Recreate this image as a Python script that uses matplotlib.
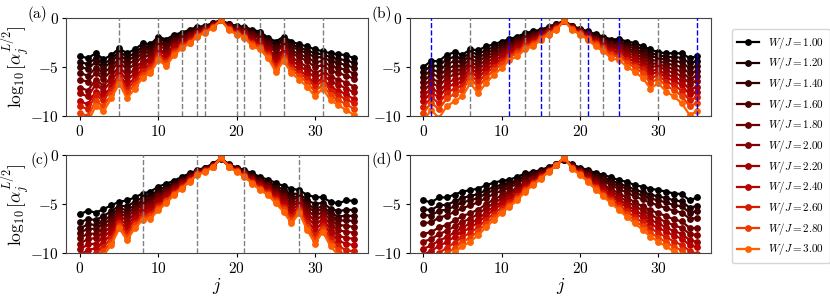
import numpy as np
import matplotlib
matplotlib.use("Agg")
import matplotlib.pyplot as plt

plt.rcParams['mathtext.fontset'] = 'cm'
plt.rcParams['font.family'] = 'serif'
plt.rcParams['font.serif'] = ['cmr10', 'DejaVu Serif']
plt.rcParams['axes.formatter.use_mathtext'] = True
plt.rcParams['axes.unicode_minus'] = True

j = list(range(36))
W_over_J = [1.00, 1.20, 1.40, 1.60, 1.80, 2.00, 2.20, 2.40, 2.60, 2.80, 3.00]
xticks = [0, 10, 20, 30]
yticks = [0, -5, -10]
panel_labels = ['(a)', '(b)', '(c)', '(d)']

# log10[alpha_j^{L/2}] for each W/J (rows) and site j (columns)
logalpha_a = [
    [-3.9,-4.1,-3.6,-4.2,-3.8,-3.1,-3.6,-3.2,-2.6,-2.7,-1.9,-2.2,-1.7,-1.5,-1.2,-0.9,-0.8,-0.5,-0.25,-0.6,-0.8,-0.9,-1.2,-1.4,-2.0,-2.4,-1.9,-2.4,-2.7,-2.9,-3.2,-3.4,-3.6,-3.7,-3.8,-4.1],
    [-4.5,-4.7,-4.1,-4.7,-4.2,-3.4,-4.0,-3.6,-2.9,-3.0,-2.1,-2.4,-1.9,-1.6,-1.3,-1.0,-0.9,-0.55,-0.2,-0.65,-0.9,-1.0,-1.35,-1.55,-2.2,-2.7,-2.1,-2.7,-3.0,-3.3,-3.6,-3.7,-4.0,-4.2,-4.3,-4.6],
    [-5.0,-5.2,-4.5,-5.1,-4.5,-3.7,-4.4,-3.9,-3.2,-3.2,-2.3,-2.7,-2.1,-1.8,-1.4,-1.1,-0.9,-0.6,-0.2,-0.7,-0.95,-1.1,-1.5,-1.7,-2.35,-2.9,-2.3,-2.9,-3.3,-3.6,-4.0,-4.0,-4.4,-4.6,-4.8,-5.1],
    [-5.6,-5.9,-5.1,-5.6,-5.0,-4.1,-4.8,-4.3,-3.5,-3.5,-2.5,-2.9,-2.3,-1.9,-1.6,-1.2,-1.0,-0.65,-0.2,-0.75,-1.05,-1.2,-1.65,-1.9,-2.55,-3.2,-2.6,-3.3,-3.7,-4.0,-4.5,-4.4,-4.9,-5.1,-5.3,-5.7],
    [-6.3,-6.5,-5.6,-6.2,-5.4,-4.4,-5.3,-4.7,-3.9,-3.8,-2.8,-3.2,-2.5,-2.1,-1.7,-1.3,-1.05,-0.7,-0.2,-0.8,-1.1,-1.3,-1.8,-2.05,-2.8,-3.5,-2.8,-3.6,-4.0,-4.4,-5.0,-4.8,-5.4,-5.6,-5.9,-6.2],
    [-7.1,-7.4,-6.3,-6.9,-6.0,-4.9,-5.9,-5.2,-4.4,-4.2,-3.1,-3.6,-2.8,-2.3,-1.9,-1.4,-1.15,-0.75,-0.2,-0.9,-1.25,-1.45,-2.05,-2.3,-3.05,-4.0,-3.2,-4.0,-4.5,-5.0,-5.6,-5.3,-6.0,-6.3,-6.6,-7.0],
    [-7.7,-8.0,-6.8,-7.4,-6.4,-5.3,-6.4,-5.6,-4.7,-4.4,-3.3,-3.8,-2.9,-2.5,-2.0,-1.5,-1.2,-0.8,-0.2,-0.95,-1.35,-1.55,-2.2,-2.5,-3.25,-4.3,-3.4,-4.3,-4.9,-5.4,-6.1,-5.7,-6.5,-6.8,-7.2,-7.6],
    [-8.5,-8.8,-7.5,-8.0,-7.0,-5.7,-6.9,-6.1,-5.1,-4.8,-3.6,-4.1,-3.2,-2.7,-2.2,-1.6,-1.3,-0.85,-0.2,-1.0,-1.45,-1.7,-2.4,-2.7,-3.5,-4.6,-3.7,-4.7,-5.3,-5.9,-6.7,-6.1,-7.1,-7.4,-7.8,-8.3],
    [-9.0,-9.3,-7.9,-8.4,-7.3,-6.0,-7.3,-6.4,-5.4,-5.0,-3.8,-4.4,-3.4,-2.8,-2.3,-1.7,-1.35,-0.9,-0.2,-1.1,-1.5,-1.8,-2.55,-2.85,-3.7,-4.9,-3.9,-5.0,-5.6,-6.2,-7.0,-6.4,-7.4,-7.9,-8.3,-8.7],
    [-9.7,-10.0,-8.5,-9.0,-7.8,-6.3,-7.7,-6.8,-5.8,-5.3,-4.1,-4.6,-3.6,-2.9,-2.5,-1.8,-1.4,-0.95,-0.2,-1.15,-1.6,-1.9,-2.7,-3.0,-3.9,-5.2,-4.2,-5.3,-5.9,-6.6,-7.5,-6.8,-7.9,-8.4,-8.8,-9.3],
    [-10.3,-10.6,-9.0,-9.5,-8.2,-6.7,-8.2,-7.2,-6.1,-5.6,-4.3,-4.9,-3.8,-3.1,-2.6,-1.9,-1.5,-1.0,-0.2,-1.2,-1.7,-2.0,-2.9,-3.2,-4.1,-5.5,-4.4,-5.6,-6.3,-7.0,-8.0,-7.2,-8.4,-8.9,-9.4,-9.9],
]

logalpha_b = [
    [-5.0,-4.4,-4.4,-3.75,-3.5,-3.75,-3.2,-3.3,-2.9,-2.7,-2.4,-2.15,-1.9,-1.55,-1.35,-1.2,-0.9,-0.6,-0.35,-0.8,-1.1,-1.35,-1.65,-1.9,-2.2,-2.15,-2.4,-2.55,-2.9,-3.2,-3.5,-3.6,-3.6,-3.6,-4.1,-3.9],
    [-5.5,-4.85,-4.9,-4.2,-3.95,-4.15,-3.5,-3.7,-3.25,-3.0,-2.65,-2.35,-2.1,-1.7,-1.5,-1.3,-0.95,-0.65,-0.3,-0.85,-1.15,-1.45,-1.75,-2.05,-2.35,-2.35,-2.65,-2.8,-3.2,-3.55,-3.8,-3.95,-4.0,-4.05,-4.6,-4.4],
    [-6.0,-5.3,-5.45,-4.7,-4.4,-4.5,-3.8,-4.1,-3.6,-3.25,-2.9,-2.55,-2.25,-1.85,-1.65,-1.4,-1.05,-0.7,-0.3,-0.85,-1.2,-1.5,-1.9,-2.15,-2.55,-2.55,-2.85,-3.1,-3.5,-3.9,-4.05,-4.3,-4.4,-4.5,-5.15,-4.9],
    [-6.5,-5.75,-5.95,-5.2,-4.85,-4.9,-4.15,-4.5,-3.9,-3.55,-3.15,-2.7,-2.45,-2.0,-1.75,-1.45,-1.1,-0.75,-0.3,-0.9,-1.25,-1.6,-2.0,-2.3,-2.7,-2.7,-3.1,-3.35,-3.75,-4.3,-4.35,-4.65,-4.8,-5.0,-5.65,-5.4],
    [-7.0,-6.2,-6.5,-5.65,-5.3,-5.3,-4.45,-4.9,-4.25,-3.8,-3.35,-2.9,-2.6,-2.15,-1.9,-1.55,-1.2,-0.8,-0.3,-0.95,-1.3,-1.65,-2.1,-2.45,-2.9,-2.9,-3.3,-3.6,-4.05,-4.65,-4.65,-5.0,-5.2,-5.45,-6.2,-5.9],
    [-7.5,-6.65,-7.0,-6.1,-5.75,-5.65,-4.75,-5.3,-4.6,-4.1,-3.6,-3.1,-2.8,-2.3,-2.05,-1.65,-1.25,-0.85,-0.3,-1.0,-1.35,-1.75,-2.2,-2.6,-3.05,-3.1,-3.55,-3.85,-4.35,-5.0,-4.9,-5.35,-5.6,-5.9,-6.7,-6.4],
    [-8.0,-7.15,-7.6,-6.65,-6.25,-6.1,-5.1,-5.7,-4.95,-4.4,-3.9,-3.35,-3.0,-2.45,-2.2,-1.75,-1.35,-0.95,-0.3,-1.0,-1.45,-1.8,-2.35,-2.75,-3.25,-3.35,-3.8,-4.15,-4.65,-5.4,-5.25,-5.75,-6.0,-6.4,-7.3,-7.0],
    [-8.5,-7.6,-8.1,-7.1,-6.7,-6.5,-5.4,-6.1,-5.3,-4.7,-4.15,-3.5,-3.2,-2.6,-2.35,-1.85,-1.4,-1.0,-0.3,-1.05,-1.5,-1.9,-2.45,-2.85,-3.4,-3.5,-4.05,-4.45,-4.95,-5.75,-5.5,-6.1,-6.4,-6.85,-7.8,-7.5],
    [-9.1,-8.1,-8.7,-7.65,-7.2,-6.9,-5.75,-6.55,-5.7,-5.0,-4.4,-3.75,-3.4,-2.75,-2.5,-1.95,-1.5,-1.05,-0.3,-1.1,-1.55,-2.0,-2.55,-3.0,-3.6,-3.75,-4.3,-4.75,-5.25,-6.15,-5.85,-6.5,-6.85,-7.4,-8.4,-8.05],
    [-9.7,-8.65,-9.3,-8.2,-7.75,-7.35,-6.1,-7.05,-6.1,-5.35,-4.7,-3.95,-3.6,-2.95,-2.65,-2.05,-1.6,-1.1,-0.3,-1.15,-1.6,-2.05,-2.7,-3.2,-3.8,-3.95,-4.55,-5.05,-5.6,-6.6,-6.2,-6.9,-7.35,-7.95,-9.0,-8.65],
    [-10.5,-9.4,-10.2,-9.0,-8.5,-8.0,-6.65,-7.7,-6.65,-5.8,-5.1,-4.3,-3.9,-3.2,-2.9,-2.2,-1.7,-1.2,-0.25,-1.2,-1.7,-2.2,-2.9,-3.4,-4.1,-4.3,-4.95,-5.5,-6.1,-7.2,-6.65,-7.5,-8.0,-8.7,-9.9,-9.5],
]

logalpha_c = [
    [-6.0,-5.65,-5.85,-5.5,-5.1,-4.75,-4.6,-4.3,-3.9,-3.7,-3.2,-2.9,-2.6,-2.2,-1.85,-1.5,-1.25,-0.85,-0.35,-0.9,-1.25,-1.5,-1.85,-2.2,-2.5,-2.8,-3.15,-3.4,-3.55,-4.05,-4.25,-4.3,-4.75,-4.9,-4.6,-4.65],
    [-6.85,-6.5,-6.6,-6.2,-5.7,-5.15,-5.2,-4.75,-4.3,-4.1,-3.55,-3.2,-2.8,-2.4,-2.0,-1.6,-1.3,-0.9,-0.3,-0.95,-1.3,-1.6,-2.0,-2.4,-2.75,-3.1,-3.55,-3.95,-3.9,-4.6,-4.95,-4.85,-5.45,-5.7,-5.55,-5.6],
    [-7.45,-7.05,-7.1,-6.7,-6.1,-5.4,-5.6,-5.1,-4.6,-4.4,-3.8,-3.4,-2.95,-2.5,-2.05,-1.6,-1.35,-0.95,-0.3,-0.95,-1.35,-1.7,-2.1,-2.55,-2.9,-3.35,-3.8,-4.3,-4.15,-4.95,-5.45,-5.2,-5.9,-6.25,-6.15,-6.2],
    [-7.9,-7.5,-7.5,-7.05,-6.45,-5.65,-5.95,-5.35,-4.8,-4.6,-4.0,-3.55,-3.1,-2.6,-2.15,-1.65,-1.4,-0.95,-0.3,-1.0,-1.4,-1.75,-2.2,-2.65,-3.0,-3.5,-4.0,-4.55,-4.3,-5.2,-5.8,-5.45,-6.25,-6.65,-6.65,-6.7],
    [-8.45,-8.0,-8.0,-7.5,-6.8,-5.9,-6.3,-5.6,-5.05,-4.85,-4.2,-3.75,-3.2,-2.7,-2.2,-1.7,-1.45,-1.0,-0.3,-1.05,-1.45,-1.8,-2.3,-2.75,-3.15,-3.7,-4.25,-4.9,-4.55,-5.55,-6.25,-5.75,-6.65,-7.1,-7.2,-7.3],
    [-9.0,-8.55,-8.45,-7.95,-7.2,-6.15,-6.7,-5.95,-5.3,-5.15,-4.45,-3.95,-3.35,-2.8,-2.3,-1.75,-1.5,-1.05,-0.3,-1.05,-1.5,-1.85,-2.4,-2.9,-3.3,-3.9,-4.5,-5.25,-4.75,-5.9,-6.7,-6.1,-7.1,-7.65,-7.8,-7.9],
    [-9.6,-9.1,-9.0,-8.4,-7.6,-6.45,-7.1,-6.25,-5.55,-5.4,-4.7,-4.15,-3.5,-2.95,-2.35,-1.8,-1.5,-1.05,-0.3,-1.1,-1.5,-1.95,-2.5,-3.05,-3.45,-4.1,-4.75,-5.6,-5.0,-6.25,-7.2,-6.45,-7.6,-8.2,-8.45,-8.5],
    [-10.2,-9.65,-9.5,-8.9,-8.0,-6.7,-7.5,-6.55,-5.85,-5.7,-4.95,-4.35,-3.65,-3.05,-2.45,-1.85,-1.55,-1.1,-0.3,-1.1,-1.55,-2.0,-2.6,-3.15,-3.6,-4.3,-5.0,-5.95,-5.25,-6.6,-7.7,-6.8,-8.05,-8.7,-9.05,-9.15],
    [-10.75,-10.2,-10.0,-9.35,-8.4,-6.95,-7.9,-6.9,-6.1,-5.95,-5.15,-4.55,-3.8,-3.2,-2.55,-1.9,-1.6,-1.15,-0.3,-1.15,-1.6,-2.05,-2.7,-3.3,-3.75,-4.5,-5.3,-6.3,-5.45,-6.95,-8.15,-7.2,-8.5,-9.25,-9.7,-9.8],
    [-11.3,-10.7,-10.45,-9.8,-8.8,-7.2,-8.3,-7.15,-6.35,-6.2,-5.4,-4.7,-3.9,-3.3,-2.6,-1.95,-1.65,-1.15,-0.3,-1.15,-1.65,-2.15,-2.8,-3.45,-3.9,-4.7,-5.5,-6.65,-5.7,-7.3,-8.6,-7.5,-8.9,-9.7,-10.25,-10.35],
    [-11.8,-11.2,-10.9,-10.2,-9.15,-7.45,-8.65,-7.45,-6.6,-6.45,-5.6,-4.9,-4.05,-3.4,-2.7,-2.0,-1.7,-1.2,-0.15,-1.2,-1.7,-2.2,-2.9,-3.55,-4.05,-4.9,-5.75,-6.95,-5.9,-7.6,-9.0,-7.8,-9.3,-10.2,-10.8,-10.9],
]

logalpha_d = [
    [-4.6,-4.8,-4.3,-4.3,-4.0,-3.7,-3.55,-3.4,-3.05,-2.8,-2.6,-2.5,-2.2,-1.85,-1.7,-1.5,-1.2,-0.85,-0.5,-0.9,-1.25,-1.5,-1.8,-2.0,-2.25,-2.55,-2.7,-3.05,-3.2,-3.4,-3.55,-3.7,-3.9,-3.95,-4.6,-4.3],
    [-5.5,-5.6,-5.1,-5.05,-4.7,-4.35,-4.15,-3.95,-3.55,-3.25,-3.0,-2.85,-2.5,-2.05,-1.85,-1.6,-1.25,-0.85,-0.45,-0.95,-1.35,-1.65,-2.0,-2.25,-2.55,-2.9,-3.15,-3.5,-3.75,-4.0,-4.2,-4.35,-4.6,-4.7,-5.35,-5.15],
    [-6.1,-6.15,-5.65,-5.55,-5.2,-4.8,-4.6,-4.35,-3.9,-3.55,-3.25,-3.05,-2.7,-2.2,-1.95,-1.7,-1.3,-0.9,-0.4,-1.0,-1.4,-1.75,-2.15,-2.45,-2.8,-3.15,-3.4,-3.85,-4.1,-4.4,-4.6,-4.8,-5.1,-5.2,-5.85,-5.7],
    [-6.9,-6.85,-6.35,-6.15,-5.75,-5.4,-5.1,-4.8,-4.35,-3.95,-3.6,-3.3,-2.9,-2.4,-2.1,-1.75,-1.35,-0.9,-0.4,-1.05,-1.5,-1.85,-2.3,-2.65,-3.05,-3.45,-3.8,-4.2,-4.5,-4.85,-5.1,-5.4,-5.65,-5.85,-6.45,-6.4],
    [-8.0,-7.85,-7.35,-7.1,-6.65,-6.2,-5.9,-5.55,-5.0,-4.5,-4.1,-3.75,-3.3,-2.7,-2.3,-1.9,-1.45,-0.9,-0.35,-1.1,-1.6,-2.05,-2.55,-3.0,-3.45,-3.9,-4.3,-4.8,-5.2,-5.6,-5.9,-6.2,-6.55,-6.75,-7.4,-7.45],
    [-8.8,-8.55,-8.05,-7.7,-7.25,-6.8,-6.45,-6.0,-5.4,-4.9,-4.4,-4.0,-3.5,-2.85,-2.45,-2.0,-1.5,-0.95,-0.35,-1.15,-1.65,-2.15,-2.75,-3.2,-3.7,-4.2,-4.7,-5.2,-5.6,-6.1,-6.45,-6.8,-7.15,-7.4,-8.0,-8.15],
    [-9.55,-9.2,-8.7,-8.35,-7.85,-7.35,-6.95,-6.5,-5.85,-5.25,-4.75,-4.3,-3.75,-3.05,-2.6,-2.1,-1.55,-0.95,-0.3,-1.2,-1.75,-2.3,-2.9,-3.45,-3.95,-4.5,-5.05,-5.6,-6.05,-6.6,-6.95,-7.35,-7.75,-8.0,-8.65,-8.85],
    [-10.15,-9.75,-9.25,-8.85,-8.3,-7.8,-7.4,-6.85,-6.2,-5.55,-5.0,-4.5,-3.95,-3.2,-2.7,-2.15,-1.55,-0.95,-0.3,-1.25,-1.8,-2.4,-3.05,-3.6,-4.2,-4.75,-5.35,-5.9,-6.4,-7.0,-7.4,-7.8,-8.2,-8.5,-9.15,-9.4],
    [-10.9,-10.45,-9.95,-9.45,-8.9,-8.35,-7.9,-7.35,-6.6,-5.95,-5.35,-4.8,-4.2,-3.4,-2.8,-2.25,-1.6,-1.0,-0.25,-1.25,-1.85,-2.5,-3.2,-3.8,-4.45,-5.1,-5.7,-6.3,-6.85,-7.45,-7.9,-8.35,-8.8,-9.15,-9.75,-10.1],
    [-11.6,-11.05,-10.55,-10.0,-9.45,-8.85,-8.4,-7.75,-7.0,-6.3,-5.65,-5.05,-4.4,-3.55,-2.95,-2.3,-1.65,-1.0,-0.25,-1.3,-1.95,-2.6,-3.35,-4.0,-4.7,-5.35,-6.0,-6.65,-7.25,-7.9,-8.4,-8.85,-9.35,-9.7,-10.3,-10.75],
    [-12.2,-11.6,-11.1,-10.5,-9.9,-9.3,-8.8,-8.15,-7.35,-6.6,-5.9,-5.25,-4.6,-3.7,-3.05,-2.4,-1.7,-1.0,-0.2,-1.35,-2.0,-2.7,-3.5,-4.2,-4.9,-5.6,-6.3,-6.95,-7.6,-8.3,-8.8,-9.3,-9.8,-10.2,-10.8,-11.3],
]

# vertical marker lines
gray_lines_a = [5, 10, 13, 15, 16, 20, 21, 23, 26, 31]
gray_lines_b = [6, 13, 16, 20, 23, 30]
blue_lines_b = [1, 11, 15, 21, 25, 35]
gray_lines_c = [8, 15, 21, 28]
gray_lines_d = []

data = [logalpha_a, logalpha_b, logalpha_c, logalpha_d]
gray_lines = [gray_lines_a, gray_lines_b, gray_lines_c, gray_lines_d]
blue_lines = [[], blue_lines_b, [], []]

colors = plt.cm.gist_heat(np.linspace(0.0, 0.69, len(W_over_J)))

fig = plt.figure(figsize=(8.30, 2.97), dpi=100)
W, H = 830.0, 297.0
ax_w, ax_h = 301.5 / W, 98.0 / H
lefts = [66.3 / W, 409.6 / W]
bottoms = [1 - 116.0 / H, 1 - 253.3 / H]
positions = [(lefts[0], bottoms[0]), (lefts[1], bottoms[0]),
             (lefts[0], bottoms[1]), (lefts[1], bottoms[1])]
label_pos = [(-0.13, 1.04), (-0.125, 1.04), (-0.118, 0.95), (-0.125, 0.95)]

handles = []
for p, (pos, series) in enumerate(zip(positions, data)):
    ax = fig.add_axes([pos[0], pos[1], ax_w, ax_h])
    for xv in gray_lines[p]:
        ax.axvline(xv, color='gray', ls='--', lw=1.0, zorder=5)
    for xv in blue_lines[p]:
        ax.axvline(xv, color='blue', ls='--', lw=1.0, zorder=5)
    for k, (w, vals) in enumerate(zip(W_over_J, series)):
        h, = ax.plot(j, vals, '-o', color=colors[k], lw=1.6, ms=3.9,
                     label=r'$W/J = %.2f$' % w, zorder=2 + k * 0.01)
        if p == 0:
            handles.append(h)
    ax.set_ylim(-10, 0)
    ax.set_xlim(-1.75, 36.75)
    ax.set_xticks(xticks)
    ax.set_yticks(yticks)
    ax.tick_params(labelsize=11, length=3, pad=2.5)
    for s in ax.spines.values():
        s.set_color('#444444')
    ax.text(label_pos[p][0], label_pos[p][1], panel_labels[p],
            transform=ax.transAxes, ha='left', va='center', fontsize=11)
    if p in (0, 2):
        ax.set_ylabel(r'$\log_{10}[\alpha_j^{L/2}]$', fontsize=12.5)
        ax.yaxis.set_label_coords(-0.112, 0.5)
    if p in (2, 3):
        ax.set_xlabel(r'$j$', fontsize=13, labelpad=0)

fig.legend(handles=handles, loc='center left', bbox_to_anchor=(726 / W, 0.508),
           fontsize=8, labelspacing=0.42, handlelength=2.0, borderpad=0.5,
           frameon=True, edgecolor='#cccccc')

fig.savefig('out.png', dpi=100)
